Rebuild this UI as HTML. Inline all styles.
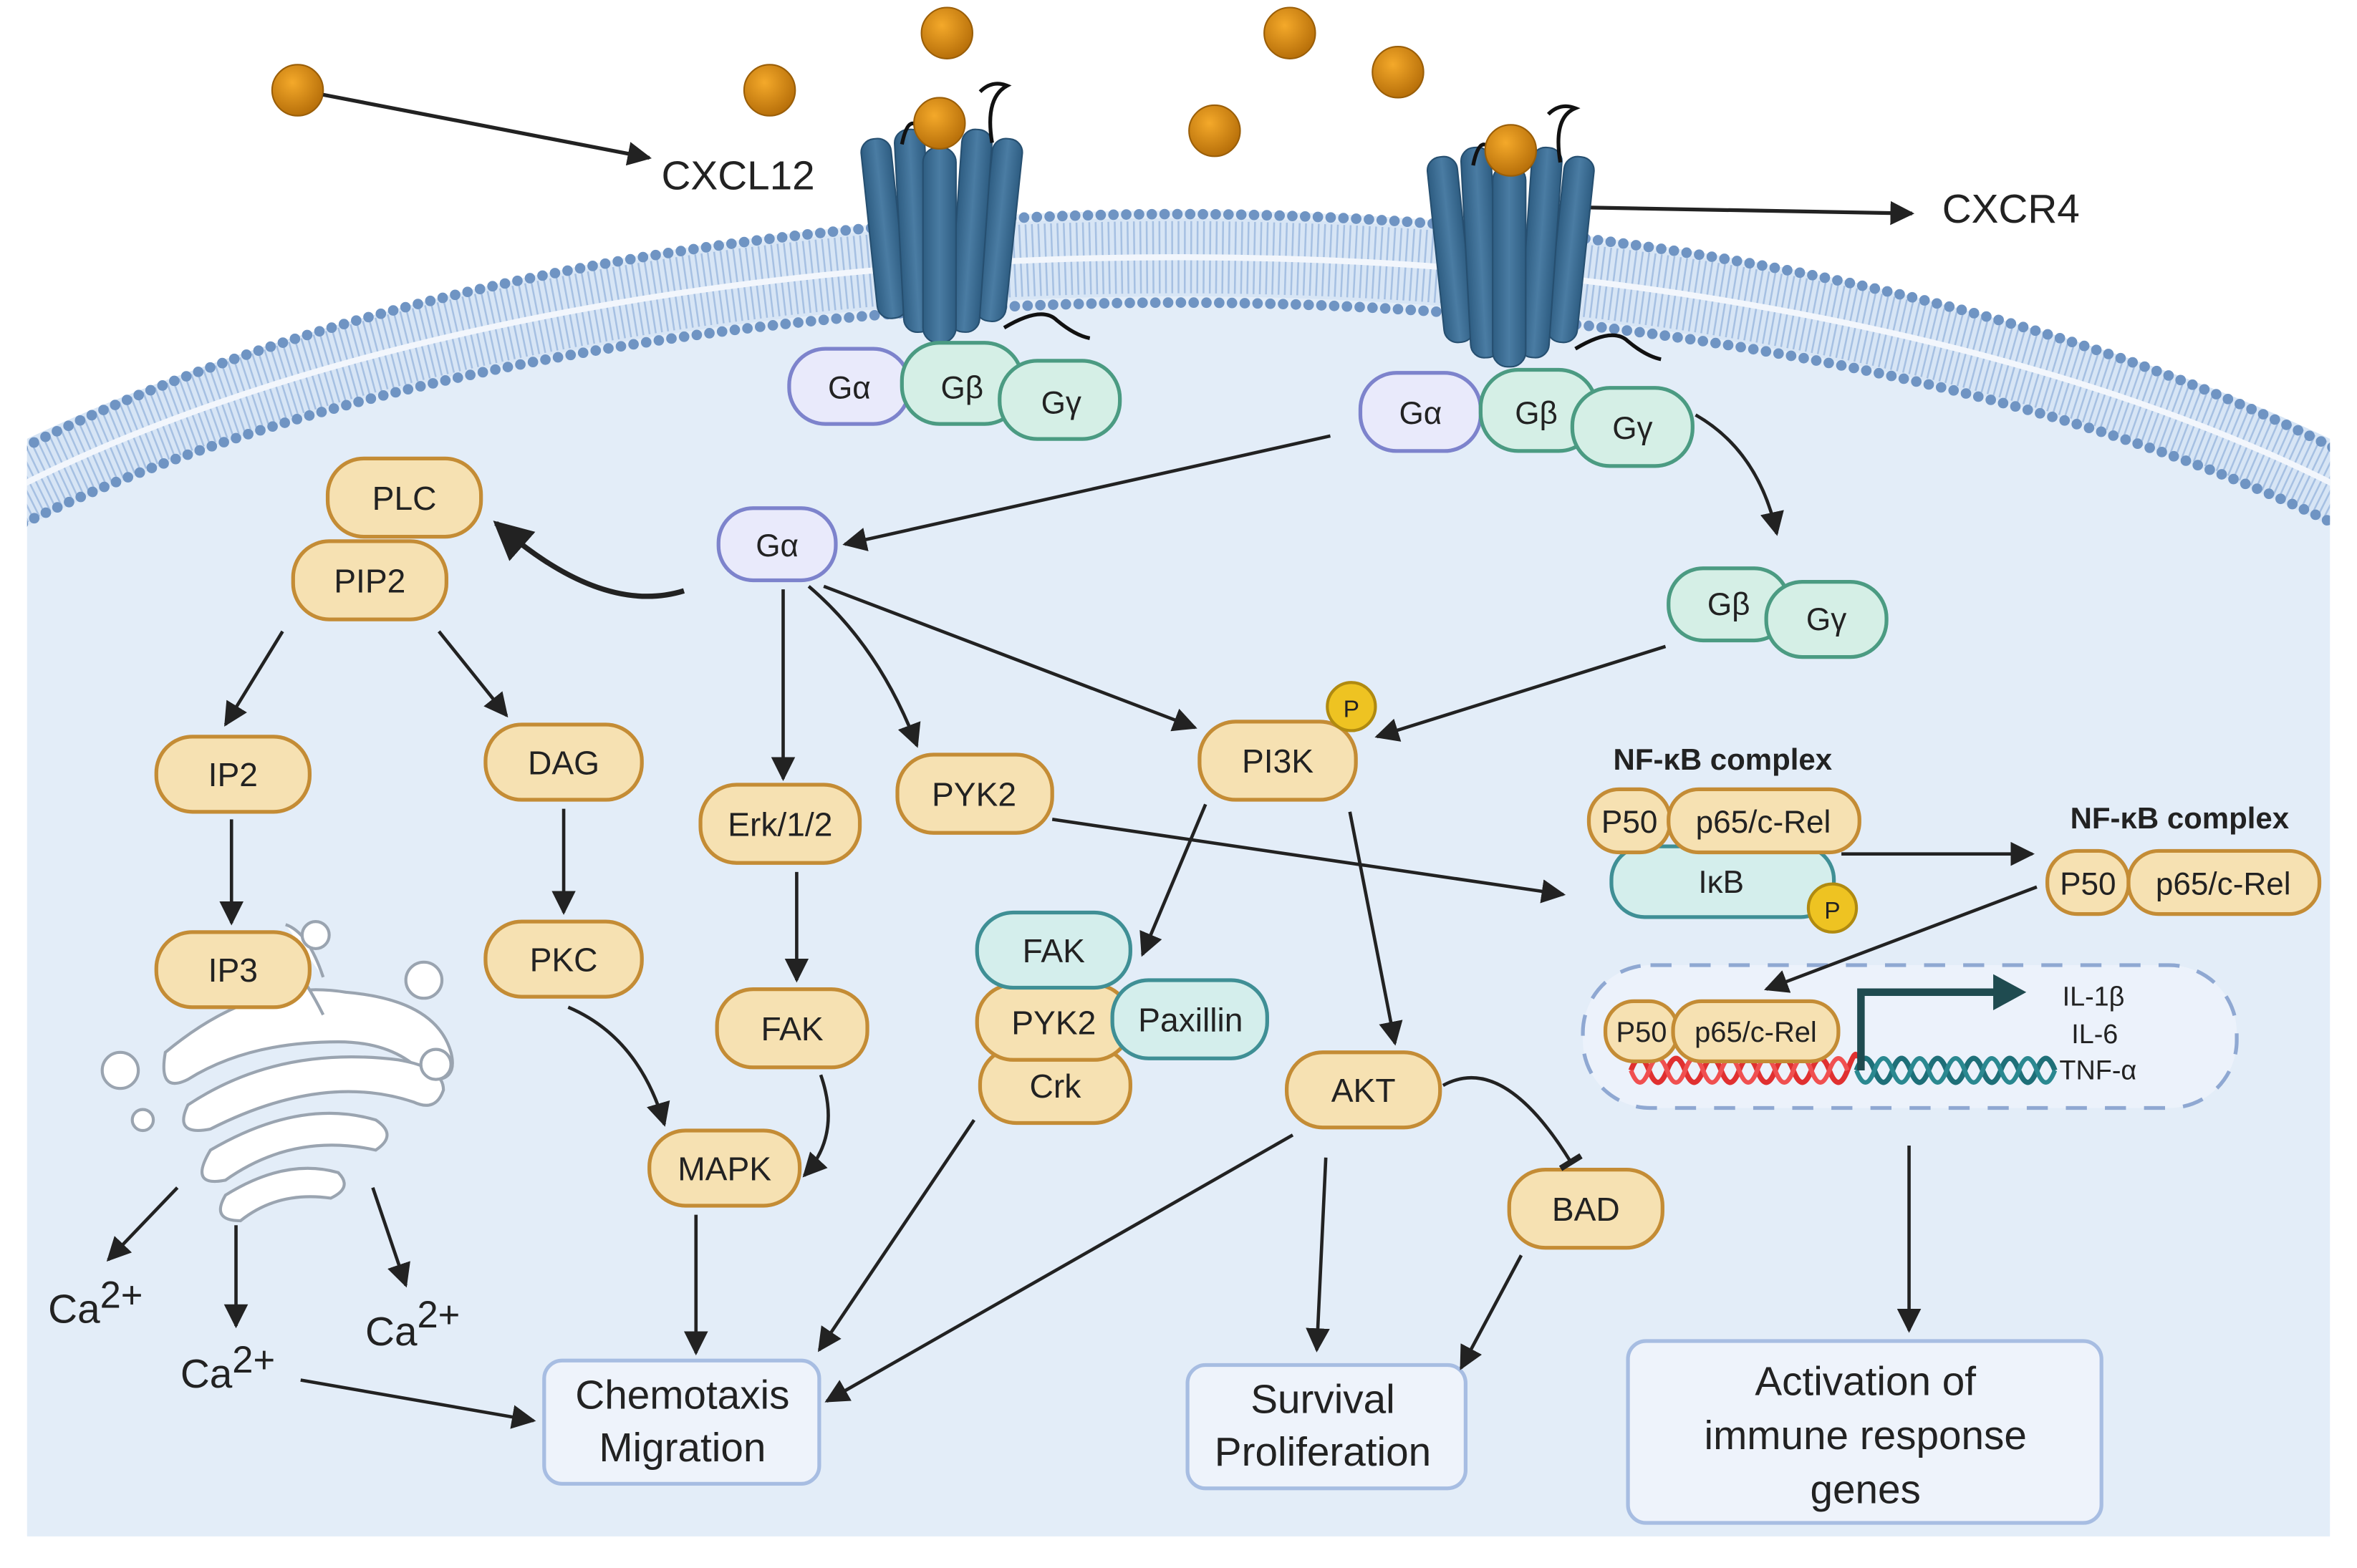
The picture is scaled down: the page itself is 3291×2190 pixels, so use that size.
<!DOCTYPE html>
<html><head><meta charset="utf-8"><style>
html,body{margin:0;padding:0;background:#fff}
svg{display:block}
text{font-family:"Liberation Sans",sans-serif;fill:#222}
</style></head><body>
<svg width="3291" height="2190" viewBox="0 0 1568 1043" preserveAspectRatio="none" xmlns="http://www.w3.org/2000/svg">
<defs>
<marker id="ah" viewBox="0 0 10 10" refX="9" refY="5" markerWidth="16" markerHeight="16" markerUnits="userSpaceOnUse" orient="auto"><path d="M0,0 L10,5 L0,10 Z" fill="#222"/></marker>
<marker id="ahb" viewBox="0 0 10 10" refX="9" refY="5" markerWidth="26" markerHeight="26" markerUnits="userSpaceOnUse" orient="auto"><path d="M0,0 L10,5 L0,10 Z" fill="#222"/></marker>
<marker id="tb" viewBox="0 0 10 10" refX="5" refY="5" markerWidth="16" markerHeight="16" markerUnits="userSpaceOnUse" orient="auto"><path d="M5,0 L5,10" stroke="#222" stroke-width="2.5"/></marker>
<radialGradient id="ball" cx="0.4" cy="0.35" r="0.65"><stop offset="0" stop-color="#f4a92a"/><stop offset="1" stop-color="#b8700a"/></radialGradient>
<linearGradient id="cyl" x1="0" x2="1"><stop offset="0" stop-color="#2e5d82"/><stop offset="0.5" stop-color="#4a7ca3"/><stop offset="1" stop-color="#2e5d82"/></linearGradient>
<clipPath id="cc"><rect x="18" y="0" width="1532" height="1043"/></clipPath>
</defs>

<!-- cell -->
<path d="M18,300 A1000,448 0 0 1 1550,300 L1550,1022 L18,1022 Z" fill="#e3edf8"/>
<!-- membrane -->
<g clip-path="url(#cc)">
<path d="M0,330 A1010,430 0 0 1 1568,330" fill="none" stroke="#d7e5f5" stroke-width="52"/>
<path d="M0,330 A1010,430 0 0 1 1568,330" fill="none" stroke="#a6c0e2" stroke-width="48" stroke-dasharray="1.2 3"/>
<path d="M0,330 A1010,430 0 0 1 1568,330" fill="none" stroke="#f2f6fc" stroke-width="4"/>
<path d="M0,306 A1020,454 0 0 1 1568,306" fill="none" stroke="#6f94c3" stroke-width="7" stroke-linecap="round" stroke-dasharray="0 8.5"/>
<path d="M0,356 A1000,408 0 0 1 1568,356" fill="none" stroke="#6f94c3" stroke-width="7" stroke-linecap="round" stroke-dasharray="0 8.5"/>
</g>

<!-- ligands -->
<g fill="url(#ball)" stroke="#9a5e08" stroke-width="1">
<circle cx="198" cy="60" r="17"/><circle cx="512" cy="60" r="17"/><circle cx="630" cy="22" r="17"/>
<circle cx="858" cy="22" r="17"/><circle cx="930" cy="48" r="17"/><circle cx="808" cy="87" r="17"/>
</g>
<line x1="215" y1="63" x2="432" y2="105" stroke="#222" stroke-width="2.5" marker-end="url(#ah)"/>
<text x="440" y="126" font-size="27">CXCL12</text>
<line x1="1055" y1="138" x2="1272" y2="142" stroke="#222" stroke-width="2.5" marker-end="url(#ah)"/>
<text x="1292" y="148" font-size="27">CXCR4</text>

<!-- receptor 1 -->
<g stroke="#264f70" stroke-width="1">
<rect x="578" y="92" width="20" height="120" rx="9" fill="url(#cyl)" transform="rotate(-6 588 150)"/>
<rect x="655" y="92" width="20" height="122" rx="9" fill="url(#cyl)" transform="rotate(6 665 150)"/>
<rect x="598" y="86" width="20" height="135" rx="9" fill="url(#cyl)" transform="rotate(-3 608 150)"/>
<rect x="636" y="86" width="20" height="135" rx="9" fill="url(#cyl)" transform="rotate(4 646 150)"/>
<rect x="614" y="98" width="22" height="130" rx="10" fill="url(#cyl)"/>
</g>
<path d="M600,96 q5,-25 15,-5 M660,95 q-5,-30 10,-38 q-10,-4 -18,4 M668,218 q25,-15 35,-5 q12,10 22,12" fill="none" stroke="#111" stroke-width="2.5"/>
<circle cx="625" cy="82" r="17" fill="url(#ball)" stroke="#9a5e08"/>
<!-- receptor 2 -->
<g stroke="#264f70" stroke-width="1">
<rect x="955" y="104" width="20" height="124" rx="9" fill="url(#cyl)" transform="rotate(-6 965 165)"/>
<rect x="1035" y="104" width="20" height="124" rx="9" fill="url(#cyl)" transform="rotate(6 1045 165)"/>
<rect x="975" y="98" width="20" height="140" rx="9" fill="url(#cyl)" transform="rotate(-3 985 165)"/>
<rect x="1015" y="98" width="20" height="140" rx="9" fill="url(#cyl)" transform="rotate(4 1025 165)"/>
<rect x="993" y="110" width="22" height="134" rx="10" fill="url(#cyl)"/>
</g>
<path d="M980,110 q5,-25 15,-5 M1038,108 q-5,-30 10,-36 q-10,-4 -18,4 M1048,232 q25,-15 35,-5 q12,10 22,12" fill="none" stroke="#111" stroke-width="2.5"/>
<circle cx="1005" cy="100" r="17" fill="url(#ball)" stroke="#9a5e08"/>

<!-- G proteins -->
<g stroke-width="2.5" font-size="21" text-anchor="middle">
<rect x="525" y="232" width="80" height="50" rx="24" fill="#e9eafb" stroke="#7d83cc"/><text x="565" y="265">Gα</text>
<rect x="600" y="228" width="80" height="54" rx="25" fill="#d5efe6" stroke="#4b9b82"/><text x="640" y="265">Gβ</text>
<rect x="665" y="240" width="80" height="52" rx="25" fill="#d5efe6" stroke="#4b9b82"/><text x="706" y="275">Gγ</text>
<rect x="905" y="248" width="80" height="52" rx="24" fill="#e9eafb" stroke="#7d83cc"/><text x="945" y="282">Gα</text>
<rect x="985" y="246" width="77" height="54" rx="25" fill="#d5efe6" stroke="#4b9b82"/><text x="1022" y="282">Gβ</text>
<rect x="1046" y="258" width="80" height="52" rx="25" fill="#d5efe6" stroke="#4b9b82"/><text x="1086" y="292">Gγ</text>
<rect x="478" y="338" width="78" height="48" rx="23" fill="#e9eafb" stroke="#7d83cc"/><text x="517" y="370">Gα</text>
<rect x="1110" y="378" width="80" height="48" rx="23" fill="#d5efe6" stroke="#4b9b82"/><text x="1150" y="409">Gβ</text>
<rect x="1175" y="387" width="80" height="50" rx="24" fill="#d5efe6" stroke="#4b9b82"/><text x="1215" y="419">Gγ</text>
</g>

<!-- ER / Golgi -->
<g fill="#fff" stroke="#9aa4b0" stroke-width="2">
<path d="M110,700 q60,-50 120,-40 q60,5 70,40 q5,20 -15,18 q-20,-25 -60,-25 q-60,0 -100,25 q-20,10 -15,-18 Z"/>
<path d="M125,735 q60,-40 140,-30 q30,5 30,20 q-5,15 -20,8 q-60,-20 -135,18 q-25,5 -15,-16 Z"/>
<path d="M140,765 q60,-35 110,-20 q15,10 0,20 q-55,-12 -100,20 q-25,5 -10,-20 Z"/>
<path d="M150,795 q40,-25 75,-15 q10,10 -5,17 q-35,-5 -60,15 q-20,0 -10,-17 Z"/>
<path d="M175,625 q20,10 40,50 M190,615 q15,5 25,35"/>
<circle cx="80" cy="712" r="12"/><circle cx="282" cy="652" r="12"/><circle cx="210" cy="622" r="9"/><circle cx="290" cy="708" r="10"/>
<circle cx="95" cy="745" r="7"/>
</g>

<!-- tan nodes -->
<g stroke="#c48c35" stroke-width="2.5" fill="#f6e1b2" font-size="22" text-anchor="middle">
<rect x="218" y="305" width="102" height="52" rx="24"/><text x="269" y="339" stroke="none" fill="#222">PLC</text>
<rect x="195" y="360" width="102" height="52" rx="24"/><text x="246" y="394" stroke="none" fill="#222">PIP2</text>
<rect x="104" y="490" width="102" height="50" rx="24"/><text x="155" y="523" stroke="none" fill="#222">IP2</text>
<rect x="323" y="482" width="104" height="50" rx="24"/><text x="375" y="515" stroke="none" fill="#222">DAG</text>
<rect x="104" y="620" width="102" height="50" rx="24"/><text x="155" y="653" stroke="none" fill="#222">IP3</text>
<rect x="323" y="613" width="104" height="50" rx="24"/><text x="375" y="646" stroke="none" fill="#222">PKC</text>
<rect x="466" y="522" width="106" height="52" rx="24"/><text x="519" y="556" stroke="none" fill="#222">Erk/1/2</text>
<rect x="597" y="502" width="103" height="52" rx="24"/><text x="648" y="536" stroke="none" fill="#222">PYK2</text>
<rect x="798" y="480" width="104" height="52" rx="24"/><text x="850" y="514" stroke="none" fill="#222">PI3K</text>
<rect x="477" y="658" width="100" height="52" rx="24"/><text x="527" y="692" stroke="none" fill="#222">FAK</text>
<rect x="432" y="752" width="100" height="50" rx="24"/><text x="482" y="785" stroke="none" fill="#222">MAPK</text>
<rect x="856" y="700" width="102" height="50" rx="24"/><text x="907" y="733" stroke="none" fill="#222">AKT</text>
<rect x="1004" y="778" width="102" height="52" rx="24"/><text x="1055" y="812" stroke="none" fill="#222">BAD</text>
<rect x="652" y="697" width="100" height="50" rx="24"/><text x="702" y="730" stroke="none" fill="#222">Crk</text>
<rect x="650" y="655" width="102" height="50" rx="24"/><text x="701" y="688" stroke="none" fill="#222">PYK2</text>
</g>
<g stroke="#3f8f95" stroke-width="2.5" fill="#d4eeec" font-size="22" text-anchor="middle">
<rect x="650" y="607" width="102" height="50" rx="24"/><text x="701" y="640" stroke="none" fill="#222">FAK</text>
<rect x="740" y="652" width="103" height="52" rx="24"/><text x="792" y="686" stroke="none" fill="#222">Paxillin</text>
</g>
<circle cx="899" cy="470" r="16" fill="#eec322" stroke="#b08a10" stroke-width="2"/><text x="899" y="477" font-size="16" text-anchor="middle">P</text>

<!-- NF-kB left -->
<text x="1146" y="512" font-size="20" font-weight="bold" text-anchor="middle">NF-κB complex</text>
<g stroke-width="2.5" font-size="21" text-anchor="middle">
<rect x="1072" y="563" width="148" height="47" rx="22" fill="#d4eeec" stroke="#3f8f95"/><text x="1145" y="594">IκB</text>
<rect x="1057" y="525" width="54" height="42" rx="20" fill="#f6e1b2" stroke="#c48c35"/><text x="1084" y="554">P50</text>
<rect x="1110" y="525" width="127" height="42" rx="20" fill="#f6e1b2" stroke="#c48c35"/><text x="1173" y="554">p65/c-Rel</text>
</g>
<circle cx="1219" cy="604" r="16" fill="#eec322" stroke="#b08a10" stroke-width="2"/><text x="1219" y="611" font-size="16" text-anchor="middle">P</text>
<text x="1450" y="551" font-size="20" font-weight="bold" text-anchor="middle">NF-κB complex</text>
<g stroke-width="2.5" font-size="21" text-anchor="middle" fill="#f6e1b2" stroke="#c48c35">
<rect x="1362" y="566" width="54" height="42" rx="20"/><text x="1389" y="595" stroke="none" fill="#222">P50</text>
<rect x="1416" y="566" width="127" height="42" rx="20"/><text x="1479" y="595" stroke="none" fill="#222">p65/c-Rel</text>
</g>

<!-- nucleus -->
<rect x="1053" y="642" width="435" height="95" rx="45" fill="#ecf2fb" stroke="#8fa8d2" stroke-width="2.5" stroke-dasharray="14 12"/>
<path d="M1085,712 q6,-16 12,0 t12,0 t12,0 t12,0 t12,0 t12,0 t12,0 t12,0 t12,0 t12,0 t12,0 t12,0 t6,-8" fill="none" stroke="#e03030" stroke-width="3.5"/>
<path d="M1085,712 q6,16 12,0 t12,0 t12,0 t12,0 t12,0 t12,0 t12,0 t12,0 t12,0 t12,0 t12,0 t12,0" fill="none" stroke="#f05050" stroke-width="3"/>
<path d="M1235,712 q6,-16 12,0 t12,0 t12,0 t12,0 t12,0 t12,0 t12,0 t12,0 t12,0 t12,0 t12,0" fill="none" stroke="#1e6f78" stroke-width="3.5"/>
<path d="M1235,712 q6,16 12,0 t12,0 t12,0 t12,0 t12,0 t12,0 t12,0 t12,0 t12,0 t12,0 t12,0" fill="none" stroke="#2a8890" stroke-width="3"/>
<g stroke-width="2.5" font-size="19" text-anchor="middle" fill="#f6e1b2" stroke="#c48c35">
<rect x="1068" y="666" width="48" height="40" rx="19"/><text x="1092" y="693" stroke="none" fill="#222">P50</text>
<rect x="1113" y="666" width="110" height="40" rx="19"/><text x="1168" y="693" stroke="none" fill="#222">p65/c-Rel</text>
</g>
<path d="M1238,712 V660 H1328" fill="none" stroke="#1f4b50" stroke-width="5"/>
<path d="M1326,648 L1348,660 L1326,672 Z" fill="#1f4b50"/>
<g font-size="18"><text x="1372" y="669">IL-1β</text><text x="1378" y="694">IL-6</text><text x="1370" y="718">TNF-α</text></g>

<!-- Ca2+ -->
<g font-size="27"><text x="32" y="880">Ca<tspan font-size="25" dy="-10">2+</tspan></text>
<text x="120" y="923">Ca<tspan font-size="25" dy="-10">2+</tspan></text>
<text x="243" y="895">Ca<tspan font-size="25" dy="-12">2+</tspan></text></g>

<!-- outcome boxes -->
<g fill="#eef3fb" stroke="#a7bde2" stroke-width="2.5">
<rect x="362" y="905" width="183" height="82" rx="12"/>
<rect x="790" y="908" width="185" height="82" rx="12"/>
<rect x="1083" y="892" width="315" height="121" rx="12"/>
</g>
<g font-size="27" text-anchor="middle">
<text x="454" y="937">Chemotaxis</text><text x="454" y="972">Migration</text>
<text x="880" y="940">Survival</text><text x="880" y="975">Proliferation</text>
<text x="1241" y="928">Activation of</text><text x="1241" y="964">immune response</text><text x="1241" y="1000">genes</text>
</g>

<!-- arrows -->
<g fill="none" stroke="#222" stroke-width="2.2" marker-end="url(#ah)">
<line x1="885" y1="290" x2="562" y2="362"/>
<line x1="521" y1="392" x2="521" y2="518"/>
<path d="M538,390 Q585,430 610,496"/>
<line x1="548" y1="390" x2="795" y2="484"/>
<path d="M1128,276 Q1170,300 1182,355"/>
<line x1="1108" y1="430" x2="916" y2="490"/>
<line x1="188" y1="420" x2="150" y2="482"/>
<line x1="292" y1="420" x2="337" y2="476"/>
<line x1="154" y1="545" x2="154" y2="614"/>
<line x1="375" y1="538" x2="375" y2="607"/>
<path d="M378,670 Q425,690 442,748"/>
<line x1="530" y1="580" x2="530" y2="652"/>
<path d="M546,715 Q560,755 535,782"/>
<line x1="463" y1="808" x2="463" y2="900"/>
<line x1="648" y1="745" x2="545" y2="898"/>
<line x1="860" y1="755" x2="550" y2="932"/>
<line x1="200" y1="918" x2="355" y2="945"/>
<line x1="118" y1="790" x2="72" y2="838"/>
<line x1="157" y1="815" x2="157" y2="882"/>
<line x1="248" y1="790" x2="270" y2="855"/>
<line x1="802" y1="535" x2="760" y2="635"/>
<line x1="898" y1="540" x2="928" y2="694"/>
<line x1="882" y1="770" x2="876" y2="898"/>
<line x1="1012" y1="835" x2="972" y2="910"/>
<line x1="700" y1="545" x2="1040" y2="595"/>
<line x1="1225" y1="568" x2="1352" y2="568"/>
<line x1="1355" y1="590" x2="1175" y2="658"/>
<line x1="1270" y1="762" x2="1270" y2="885"/>
</g>
<path d="M455,393 Q400,410 330,348" fill="none" stroke="#222" stroke-width="3.5" marker-end="url(#ahb)"/>
<path d="M960,722 Q1000,700 1045,773" fill="none" stroke="#222" stroke-width="2.2" marker-end="url(#tb)"/>
</svg>
</body></html>
